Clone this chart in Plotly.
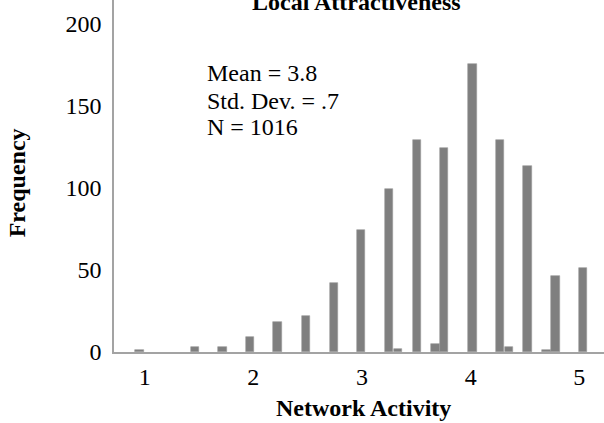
import plotly.graph_objects as go

# Histogram of Network Activity (bin centres and counts)
bin_centers = [0.952, 1.463, 1.716, 1.969, 2.224, 2.483, 2.740, 2.991, 3.249, 3.331,
               3.504, 3.676, 3.757, 4.017, 4.272, 4.355, 4.523, 4.696, 4.779, 5.036]
counts = [1, 3, 3, 9, 18, 22, 42, 74, 99, 2,
          129, 5, 124, 175, 129, 3, 113, 1, 46, 51]
bar_width = 0.078

x_ticks = [1, 2, 3, 4, 5]
y_ticks = [0, 50, 100, 150, 200]

stats_lines = ["Mean = 3.8", "Std. Dev. = .7", "N = 1016"]
chart_title = "Local Attractiveness"
x_title = "Network Activity"
y_title = "Frequency"

FONT = "Liberation Serif, Times New Roman, serif"
FS = 24
AXIS_COLOR = "#a3a3a3"

fig = go.Figure()
fig.add_trace(go.Bar(
    x=bin_centers,
    y=counts,
    width=[bar_width] * len(bin_centers),
    marker=dict(color="#7f7f7f", line=dict(color="#9a9a9a", width=0.6)),
    showlegend=False,
    hoverinfo="x+y",
))

fig.update_layout(
    width=604,
    height=423,
    margin=dict(l=114, r=0, t=0, b=71),
    paper_bgcolor="white",
    plot_bgcolor="white",
    font=dict(family=FONT, size=FS, color="black"),
    bargap=0,
)

fig.update_xaxes(
    range=[0.7174, 5.2273],
    tickvals=x_ticks,
    ticktext=[str(v) for v in x_ticks],
    showgrid=False,
    zeroline=False,
    showline=True,
    linecolor=AXIS_COLOR,
    linewidth=1.5,
    ticks="outside",
    ticklen=2,
    tickcolor="rgba(0,0,0,0)",
    tickfont=dict(family=FONT, size=FS, color="black"),
)
fig.update_yaxes(
    range=[0, 214.1],
    tickvals=y_ticks,
    ticktext=[str(v) for v in y_ticks],
    showgrid=False,
    zeroline=False,
    showline=True,
    linecolor=AXIS_COLOR,
    linewidth=1.5,
    ticks="outside",
    ticklen=6,
    tickcolor="rgba(0,0,0,0)",
    tickfont=dict(family=FONT, size=FS, color="black"),
)

# Chart title, partly above the top edge
fig.add_annotation(
    text="<b>" + chart_title + "</b>",
    xref="paper", yref="paper", x=0.495, y=1.0,
    xanchor="center", yanchor="middle", yshift=-2,
    showarrow=False, font=dict(family=FONT, size=FS, color="black"),
)

# Axis titles
fig.add_annotation(
    text="<b>" + x_title + "</b>",
    xref="paper", yref="paper", x=0.510, y=-0.158,
    xanchor="center", yanchor="middle",
    showarrow=False, font=dict(family=FONT, size=FS, color="black"),
)
fig.add_annotation(
    text="<b>" + y_title + "</b>",
    xref="paper", yref="paper", x=-0.198, y=0.482,
    xanchor="center", yanchor="middle", textangle=-90,
    showarrow=False, font=dict(family=FONT, size=FS, color="black"),
)

# Summary statistics block
stats_y = [0.793, 0.713, 0.638]
for line, yy in zip(stats_lines, stats_y):
    fig.add_annotation(
        text=line,
        xref="paper", yref="paper", x=0.1857, y=yy,
        xanchor="left", yanchor="middle",
        showarrow=False, font=dict(family=FONT, size=FS, color="black"),
    )

fig.write_html("out.html")
